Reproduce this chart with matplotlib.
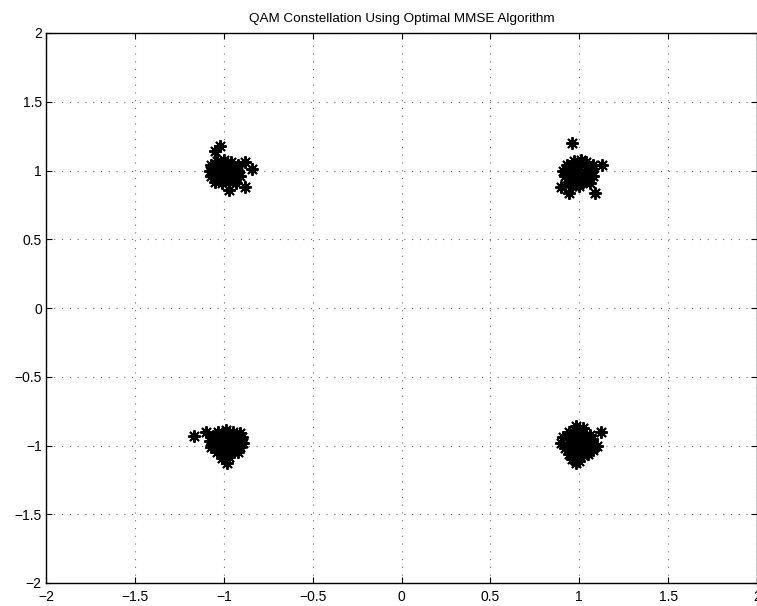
import matplotlib
matplotlib.use("Agg")
import matplotlib.pyplot as plt

plt.rcParams['font.family'] = ['Liberation Sans', 'DejaVu Sans']

title = "QAM Constellation Using Optimal MMSE Algorithm"
ticks = [-2, -1.5, -1, -0.5, 0, 0.5, 1, 1.5, 2]
tick_labels = ["\u22122", "\u22121.5", "\u22121", "\u22120.5", "0", "0.5", "1", "1.5", "2"]

# Equalizer output, symbol near (-1, +1)
tl_i = [-1.04, -1.00, -0.96, -1.07, -1.03, -0.99, -0.95, -0.92,
        -1.08, -1.04, -1.00, -0.96, -0.92, -1.07, -1.03, -0.99, -0.95, -0.91,
        -1.05, -1.01, -0.97, -0.93, -1.01, -0.98, -1.02,
        -1.02, -1.05, -0.88, -0.84, -0.88, -0.97]
tl_q = [1.07, 1.08, 1.06, 1.04, 1.04, 1.05, 1.03, 1.04,
        1.00, 0.99, 1.01, 0.99, 1.00, 0.96, 0.95, 0.96, 0.95, 0.96,
        0.92, 0.91, 0.92, 0.91, 1.02, 0.98, 0.97,
        1.18, 1.14, 1.06, 1.01, 0.88, 0.86]

# Symbol near (+1, +1)
tr_i = [0.97, 1.01, 1.04, 0.93, 0.97, 1.01, 1.05, 1.08,
        0.91, 0.95, 0.99, 1.03, 1.07, 0.92, 0.96, 1.00, 1.04, 1.08,
        0.94, 0.98, 1.02, 1.06, 0.96, 1.00, 0.99,
        0.96, 1.13, 1.09, 0.94, 0.90]
tr_q = [1.07, 1.08, 1.06, 1.04, 1.04, 1.05, 1.03, 1.04,
        1.00, 0.99, 1.01, 0.99, 1.00, 0.96, 0.95, 0.96, 0.95, 0.96,
        0.92, 0.91, 0.92, 0.91, 0.89, 0.89, 0.98,
        1.20, 1.04, 0.84, 0.84, 0.88]

# Symbol near (-1, -1)
bl_i = [-1.03, -0.99, -0.95, -0.91, -1.06, -1.02, -0.98, -0.94, -0.90,
        -1.08, -1.04, -1.00, -0.96, -0.92, -0.89, -1.07, -1.03, -0.99, -0.95, -0.91,
        -1.04, -1.00, -0.96, -0.92, -1.01, -0.97, -0.97,
        -1.17, -1.10, -0.98]
bl_q = [-0.90, -0.89, -0.90, -0.91, -0.93, -0.94, -0.93, -0.94, -0.94,
        -0.97, -0.98, -0.97, -0.98, -0.97, -0.98, -1.01, -1.02, -1.01, -1.02, -1.01,
        -1.05, -1.06, -1.05, -1.05, -1.09, -1.08, -0.99,
        -0.93, -0.90, -1.13]

# Symbol near (+1, -1)
br_i = [0.98, 1.02, 0.94, 0.98, 1.02, 1.06, 0.91, 0.95, 0.99, 1.03, 1.07,
        0.90, 0.94, 0.98, 1.02, 1.06, 1.10, 0.92, 0.96, 1.00, 1.04, 1.08,
        0.94, 0.98, 1.02, 1.05, 0.96, 1.00, 0.98,
        1.12]
br_q = [-0.86, -0.87, -0.90, -0.90, -0.91, -0.92, -0.94, -0.94, -0.95, -0.94, -0.95,
        -0.98, -0.98, -0.99, -0.98, -0.99, -1.00, -1.02, -1.02, -1.03, -1.02, -1.03,
        -1.06, -1.06, -1.07, -1.06, -1.10, -1.11, -1.13,
        -0.90]

fig = plt.figure(figsize=(7.57, 6.06), dpi=100)
ax = fig.add_axes([46 / 757, 23 / 606, 711 / 757, 550 / 606])

for xs, ys in [(tl_i, tl_q), (tr_i, tr_q), (bl_i, bl_q), (br_i, br_q)]:
    ax.plot(xs, ys, linestyle='none', marker=(8, 2, 0), markersize=9,
            color='black', markeredgewidth=1.4)

ax.set_xlim(-2, 2)
ax.set_ylim(-2, 2)
ax.set_xticks(ticks)
ax.set_xticklabels(tick_labels)
ax.set_yticks(ticks)
ax.set_yticklabels(tick_labels)
ax.tick_params(direction='in', length=4.5, width=0.8, top=True, right=True,
               labelsize=10, colors='black')
ax.tick_params(axis='x', pad=5)
ax.tick_params(axis='y', pad=3)
ax.grid(True, linestyle=(0, (1, 6)), linewidth=0.8, color='0.45')
ax.set_axisbelow(True)
for s in ax.spines.values():
    s.set_linewidth(1.0)
    s.set_color('black')

ax.set_title(title, fontsize=9.7, pad=8)

fig.savefig("out.png", dpi=100)
